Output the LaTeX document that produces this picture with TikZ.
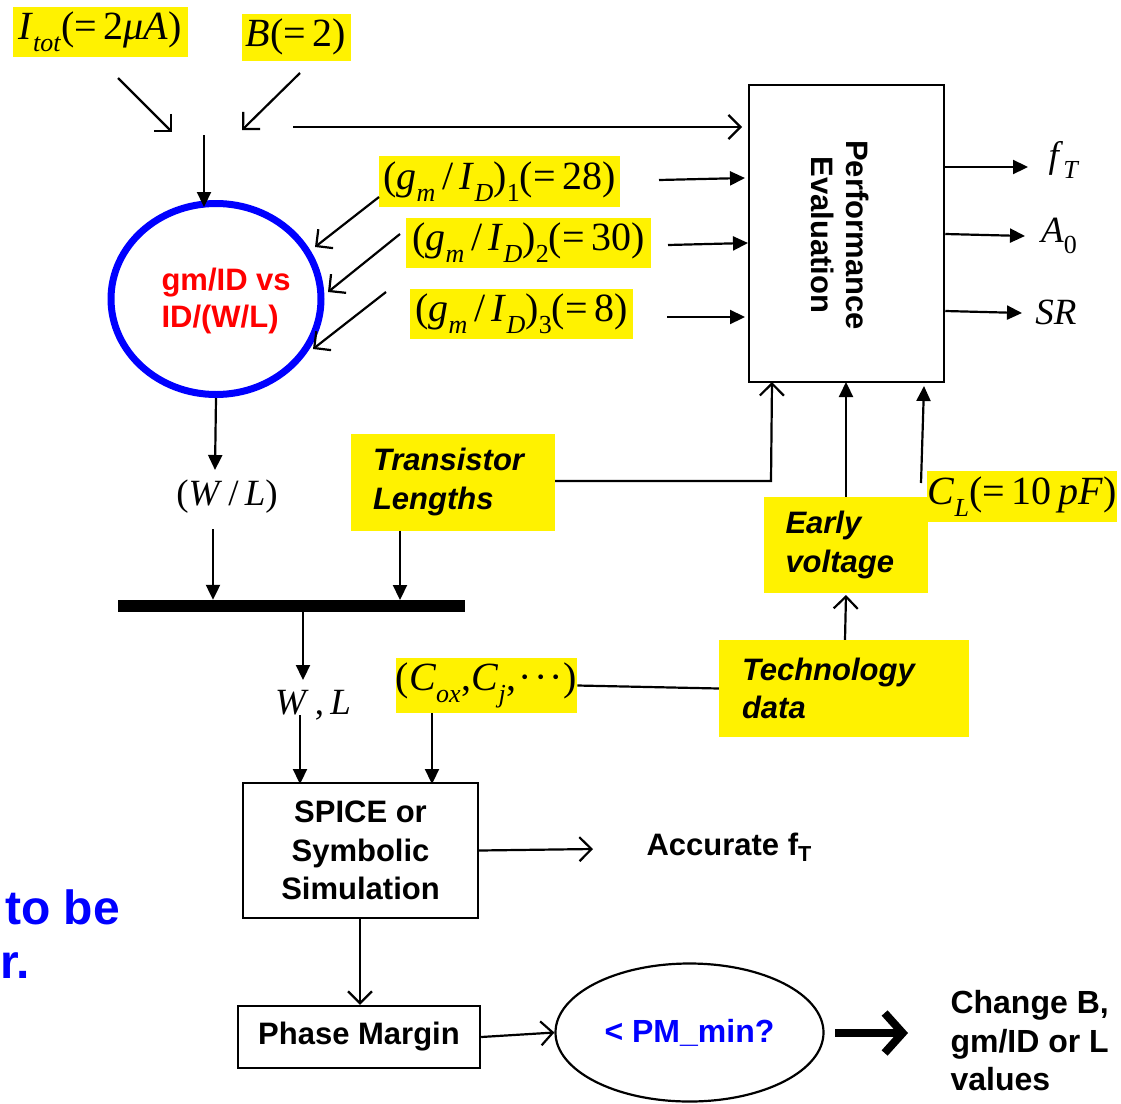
\documentclass[tikz,border=0pt]{standalone}
\usepackage{fontspec}
\setmainfont{Liberation Serif}
\setsansfont{Liberation Sans}
\usetikzlibrary{arrows.meta,shapes.geometric}
\newcommand\lo[1]{\raisebox{-0.3em}{\fontsize{26}{26}\selectfont #1}}
\newcommand\labfont{\fontsize{40}{44}\selectfont}
\newcommand\midfont{\fontsize{37}{40}\selectfont}
\newcommand\sbf{\sffamily\bfseries\fontsize{31}{38.5}\selectfont}
\tikzset{
 ln/.style={line width=2.2pt},
 oa/.style={ln,-{Straight Barb[length=12pt,width=24pt]}},
 fa/.style={ln,-{Triangle[length=15pt,width=14pt]}},
 ybox/.style={fill=yellow, inner sep=0pt, minimum height=50pt, font=\labfont},
 ytext/.style={fill=yellow, inner ysep=0pt, align=left, font=\sbf\itshape},
 plain/.style={draw, line width=2.4pt, inner sep=0pt, align=center, font=\sbf},
}
\begin{document}
\begin{tikzpicture}[x=1pt,y=-1pt]
\useasboundingbox (0,0) rectangle (1121,1103);
% ---------- top labels
\node[ybox, minimum width=175pt] (itot) at (100,32) {\textit{I}\lo{\textit{tot}}(=\,2\textit{μA})};
\node[ybox, minimum width=109pt, minimum height=47pt] (bb) at (296,37) {\textit{B}(=\,2)};
\coordinate (a1s) at (118,78);  \coordinate (a1e) at (172,132);
\coordinate (a2s) at (300,73);  \coordinate (a2e) at (242,130);
\draw[oa] (a1s) -- (a1e);
\draw[oa] (a2s) -- (a2e);
% ---------- circle
\node[draw=blue, line width=7pt, ellipse, minimum width=210pt, minimum height=191pt] (circ) at (216,299) {};
\node[anchor=west, align=left, text=red, font=\sffamily\bfseries\fontsize{31}{37}\selectfont] (ctext) at (158,301) {gm/ID vs\\ID/(W/L)};
\coordinate (j0) at (204,135);
\draw[fa] (j0) -- (204,207);
% ---------- performance evaluation
\node[draw, line width=2.5pt, minimum width=195pt, minimum height=297pt] (pe) at (846.5,233.5) {};
\node[rotate=-90, align=center, font=\sffamily\bfseries\fontsize{31}{35}\selectfont] (pet) at (840,235) {Performance\\Evaluation};
\coordinate (t0) at (293,127); \coordinate (t1) at (742,127);
\draw[oa] (t0) -- (t1);
% ---------- gm/ID labels
\node[ybox, minimum width=241pt, minimum height=51pt] (g1) at (499.5,181.5) {(\textit{g}\lo{\textit{m}}\,/\,\textit{I}\lo{\textit{D}})\lo{1}(=\,28)};
\node[ybox, minimum width=245pt] (g2) at (528.5,243) {(\textit{g}\lo{\textit{m}}\,/\,\textit{I}\lo{\textit{D}})\lo{2}(=\,30)};
\node[ybox, minimum width=223pt] (g3) at (521.5,314) {(\textit{g}\lo{\textit{m}}\,/\,\textit{I}\lo{\textit{D}})\lo{3}(=\,8)};
\coordinate (g1s) at (379,197); \coordinate (g1e) at (315,247);
\coordinate (g2s) at (400,234); \coordinate (g2e) at (328,292);
\coordinate (g3s) at (386,292); \coordinate (g3e) at (313,349);
\draw[oa] (g1s) -- (g1e);
\draw[oa] (g2s) -- (g2e);
\draw[oa] (g3s) -- (g3e);
\coordinate (p1s) at (659,180); \coordinate (p2s) at (668,245); \coordinate (p3s) at (667,317);
\draw[fa] (p1s) -- (745,178);
\draw[fa] (p2s) -- (748,243);
\draw[fa] (p3s) -- (745,317);
% ---------- outputs
\node[font=\midfont] (ft) at (1064,160) {\textit{f}\lo{\textit{T}}};
\node[font=\midfont] (a0) at (1059,236) {\textit{A}\lo{0}};
\node[font=\midfont] (sr) at (1056,312) {\textit{SR}};
\draw[fa] (pe.east |- 0,167) -- (1028,167);
\draw[fa] (pe.east |- 0,234) -- (1025,236);
\draw[fa] (pe.east |- 0,311) -- (1022,313);
% ---------- W/L path
\node[font=\midfont] (wl) at (227,497) {(\textit{W}\,/\,\textit{L})};
\draw[fa] (circ.south) -- (215,470);
\coordinate (wlb) at (213,529);
\node[fill=black, inner sep=0pt, minimum width=347pt, minimum height=12pt] (bar) at (291.5,606) {};
\draw[fa] (wlb) -- (wlb |- bar.north);
\node[ytext, text width=160pt, inner xsep=22pt, minimum height=97pt] (tl) at (453,482) {Transistor\\Lengths};
\draw[fa] (tl.south -| 400,0) -- (400,600);
\coordinate (tlc) at (771,481);
\draw[ln,-{Straight Barb[length=12pt,width=24pt]}] (tl.east |- tlc) -- (tlc) -- (772,382);
\draw[fa] (bar.south -| 303,0) -- (303,680);
\node[font=\midfont] (wl2) at (313,705) {\textit{W}\,,\,\textit{L}};
\coordinate (wl2b) at (300,715);
\draw[fa] (wl2b) -- (300,784);
% ---------- technology
\node[ybox, minimum width=179pt, minimum height=55pt] (cox) at (486.5,685.5) {(\textit{C}\lo{\textit{ox}}\kern1pt,\textit{C}\lo{\textit{j}}\kern1pt,\kern2pt·\kern2pt·\kern2pt·\kern1pt)};
\draw[fa] (cox.south -| 432,0) -- (432,784);
\node[ytext, text width=204pt, inner xsep=23pt, minimum height=97pt] (tech) at (844,688.5) {Technology\\data};
\draw[ln] (cox.east) -- (tech.west);
\node[ytext, text width=120pt, inner xsep=22pt, minimum height=96pt] (early) at (845.5,545) {Early\\voltage};
\draw[oa] (tech.north -| 845,0) -- (846,595);
\draw[fa] (early.north -| 846,0) -- (846,382);
\node[ybox, minimum width=190pt, minimum height=51pt] (cl) at (1022,496.5) {\textit{C}\lo{\textit{L}}(=\,10\,\textit{pF})};
\coordinate (cls) at (921,483);
\draw[fa] (cls) -- (924,386);
% ---------- SPICE
\node[plain, minimum width=235pt, minimum height=135pt] (spice) at (360.5,850.5) {SPICE or\\Symbolic\\Simulation};
\node[font=\sbf, anchor=west] (acc) at (643,847) {Accurate f\textsubscript{T}};
\draw[oa] (spice.east) -- (593,849);
\node[plain, minimum width=242pt, minimum height=62pt] (pm) at (359,1037) {Phase Margin};
\draw[oa] (spice.south -| 360,0) -- (pm.north -| 360,0);
\node[draw, line width=2.2pt, ellipse, minimum width=268pt, minimum height=138pt, text=blue, font=\sffamily\bfseries\fontsize{32}{36}\selectfont] (pmin) at (689.5,1032.5) {< PM\_min?};
\draw[oa] (pm.east) -- (pmin.west);
\coordinate (th0) at (835,1033); \coordinate (th1) at (908,1033);
\draw[line width=8pt, -{Straight Barb[length=18pt,width=40pt]}] (th0) -- (th1);
\node[anchor=west, align=left, font=\sffamily\bfseries\fontsize{32}{38.5}\selectfont] (chg) at (947,1041) {Change B,\\gm/ID or L\\values};
% ---------- text on left edge
\node[anchor=west, inner sep=0pt, text=blue, font=\sffamily\bfseries\fontsize{48}{50}\selectfont] (tobe) at (5,907) {to be};
\node[anchor=west, inner sep=0pt, text=blue, font=\sffamily\bfseries\fontsize{48}{50}\selectfont] (rr) at (0,966) {r.};
\end{tikzpicture}
\end{document}
